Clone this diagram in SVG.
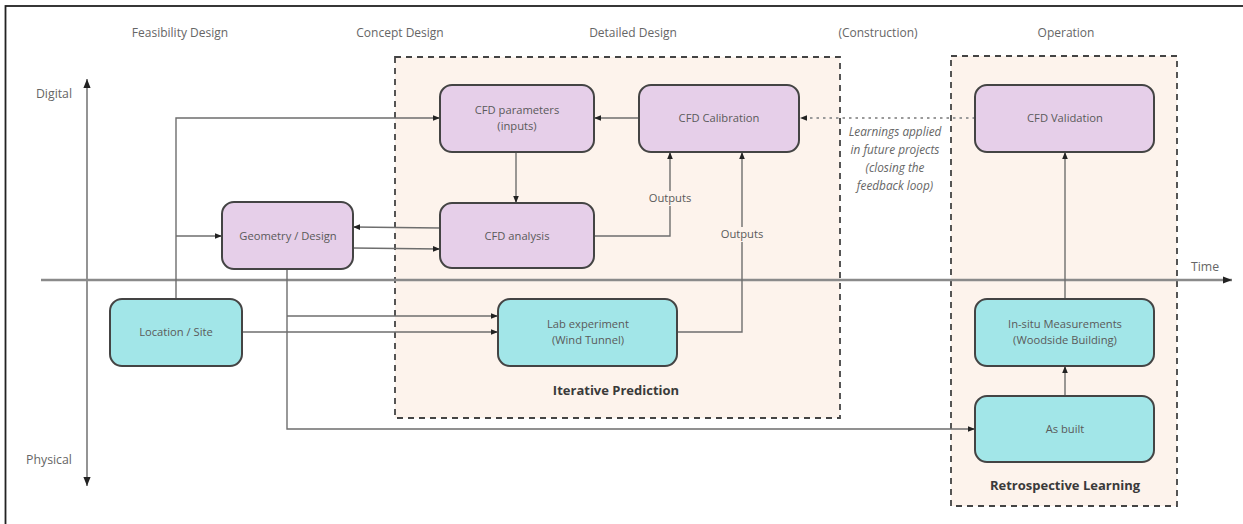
<svg xmlns="http://www.w3.org/2000/svg" width="1243" height="524" viewBox="0 0 1243 524">
  <defs>
    <marker id="arr" viewBox="0 0 10 10" refX="10" refY="5" markerWidth="7" markerHeight="7" orient="auto" markerUnits="userSpaceOnUse">
      <path d="M0,1 L10,5 L0,9 z" fill="#222"/>
    </marker>
    <marker id="arrBig" viewBox="0 0 10 10" refX="10" refY="5" markerWidth="9" markerHeight="9" orient="auto" markerUnits="userSpaceOnUse">
      <path d="M0,1 L10,5 L0,9 z" fill="#222"/>
    </marker>
  </defs>
  <style>
    text { font-family: "Open Sans", "Noto Sans", "Liberation Sans", sans-serif; fill: #5a5a5a; }
    .phase { font-size: 12px; text-anchor: middle; fill: #666; }
    .axislbl { font-size: 12.3px; text-anchor: middle; fill: #666; }
    .lbl { font-size: 11.2px; text-anchor: middle; }
    .title { font-size: 13px; font-weight: bold; text-anchor: middle; fill: #3a3a3a; }
    .note { font-size: 11.8px; font-style: italic; text-anchor: middle; fill: #666; }
    .zone { fill: #fdf3ec; stroke: #444; stroke-width: 1.8; stroke-dasharray: 6 5; }
    .digital { fill: #e6cfe9; stroke: #444; stroke-width: 2; }
    .physical { fill: #a2e6e8; stroke: #444; stroke-width: 2; }
    .conn { fill: none; stroke: #6e6e6e; stroke-width: 1.4; }
    .axis { fill: none; stroke: #666; stroke-width: 1.4; }
    .timeaxis { fill: none; stroke: #8a8a8a; stroke-width: 2.5; }
    .dotted { fill: none; stroke: #9a9a9a; stroke-width: 1.8; stroke-dasharray: 2.5 4; }
  </style>

  <rect x="0" y="0" width="1243" height="524" fill="#ffffff"/>
  <!-- outer frame -->
  <rect x="5.5" y="6" width="1250" height="530" fill="none" stroke="#222" stroke-width="1.8"/>

  <!-- phase headings -->
  <g id="phases">
    <text class="phase" x="180" y="37">Feasibility Design</text>
    <text class="phase" x="400" y="37">Concept Design</text>
    <text class="phase" x="633" y="37">Detailed Design</text>
    <text class="phase" x="878" y="37">(Construction)</text>
    <text class="phase" x="1066" y="37">Operation</text>
  </g>

  <!-- zones -->
  <g id="zone-iterative">
    <rect class="zone" x="395" y="57" width="445" height="361"/>
    <text class="title" x="616" y="395">Iterative Prediction</text>
  </g>
  <g id="zone-retrospective">
    <rect class="zone" x="951" y="56" width="226" height="450"/>
    <text class="title" x="1065" y="490">Retrospective Learning</text>
  </g>

  <!-- axes -->
  <g id="axes">
    <line class="axis" x1="87" y1="280" x2="87" y2="79" marker-end="url(#arrBig)"/>
    <line class="axis" x1="87" y1="280" x2="87" y2="486" marker-end="url(#arrBig)"/>
    <text class="axislbl" x="54" y="98">Digital</text>
    <text class="axislbl" x="49" y="464">Physical</text>
    <line class="timeaxis" x1="41" y1="280" x2="1232" y2="280" marker-end="url(#arrBig)"/>
    <text class="axislbl" x="1205" y="271">Time</text>
  </g>

  <!-- connectors -->
  <g id="connectors">
    <polyline class="conn" points="176,299 176,118 440,118" marker-end="url(#arr)"/>
    <polyline class="conn" points="176,236 222,236" marker-end="url(#arr)"/>
    <polyline class="conn" points="440,228 353,227" marker-end="url(#arr)"/>
    <polyline class="conn" points="353,248 440,249" marker-end="url(#arr)"/>
    <polyline class="conn" points="516,152 516,203" marker-end="url(#arr)"/>
    <polyline class="conn" points="639,118 594,118" marker-end="url(#arr)"/>
    <polyline class="conn" points="594,236 670,236 670,152" marker-end="url(#arr)"/>
    <polyline class="conn" points="677,332 742,332 742,152" marker-end="url(#arr)"/>
    <polyline class="conn" points="287,269 287,429 975,429" marker-end="url(#arr)"/>
    <polyline class="conn" points="287,316 498,316" marker-end="url(#arr)"/>
    <polyline class="conn" points="242,332 498,332" marker-end="url(#arr)"/>
    <polyline class="conn" points="1065,396 1065,366" marker-end="url(#arr)"/>
    <polyline class="conn" points="1065,299 1065,152" marker-end="url(#arr)"/>
    <polyline class="dotted" points="975,118 800,118" marker-end="url(#arr)"/>
    <rect x="651" y="191" width="38" height="15" fill="#fdf3ec"/>
    <text class="lbl" x="670" y="202">Outputs</text>
    <rect x="723" y="227" width="38" height="15" fill="#fdf3ec"/>
    <text class="lbl" x="742" y="238">Outputs</text>
    <text class="note" x="895" y="136">Learnings applied</text>
    <text class="note" x="895" y="154">in future projects</text>
    <text class="note" x="895" y="172">(closing the</text>
    <text class="note" x="895" y="190">feedback loop)</text>
  </g>

  <!-- nodes -->
  <g id="cfd-parameters">
    <rect class="digital" x="440" y="85" width="154" height="67" rx="12"/>
    <text class="lbl" x="517" y="114">CFD parameters</text>
    <text class="lbl" x="517" y="130">(inputs)</text>
  </g>
  <g id="cfd-calibration">
    <rect class="digital" x="639" y="85" width="160" height="67" rx="12"/>
    <text class="lbl" x="719" y="122">CFD Calibration</text>
  </g>
  <g id="cfd-analysis">
    <rect class="digital" x="440" y="203" width="154" height="65" rx="12"/>
    <text class="lbl" x="517" y="240">CFD analysis</text>
  </g>
  <g id="geometry-design">
    <rect class="digital" x="222" y="202" width="131" height="67" rx="12"/>
    <text class="lbl" x="288" y="240">Geometry / Design</text>
  </g>
  <g id="location-site">
    <rect class="physical" x="110" y="299" width="132" height="67" rx="12"/>
    <text class="lbl" x="176" y="336">Location / Site</text>
  </g>
  <g id="lab-experiment">
    <rect class="physical" x="498" y="299" width="179" height="67" rx="12"/>
    <text class="lbl" x="588" y="328">Lab experiment</text>
    <text class="lbl" x="588" y="344">(Wind Tunnel)</text>
  </g>
  <g id="cfd-validation">
    <rect class="digital" x="975" y="85" width="179" height="67" rx="12"/>
    <text class="lbl" x="1065" y="122">CFD Validation</text>
  </g>
  <g id="in-situ-measurements">
    <rect class="physical" x="975" y="299" width="179" height="67" rx="12"/>
    <text class="lbl" x="1065" y="328">In-situ Measurements</text>
    <text class="lbl" x="1065" y="344">(Woodside Building)</text>
  </g>
  <g id="as-built">
    <rect class="physical" x="975" y="396" width="179" height="66" rx="12"/>
    <text class="lbl" x="1065" y="433">As built</text>
  </g>
</svg>
